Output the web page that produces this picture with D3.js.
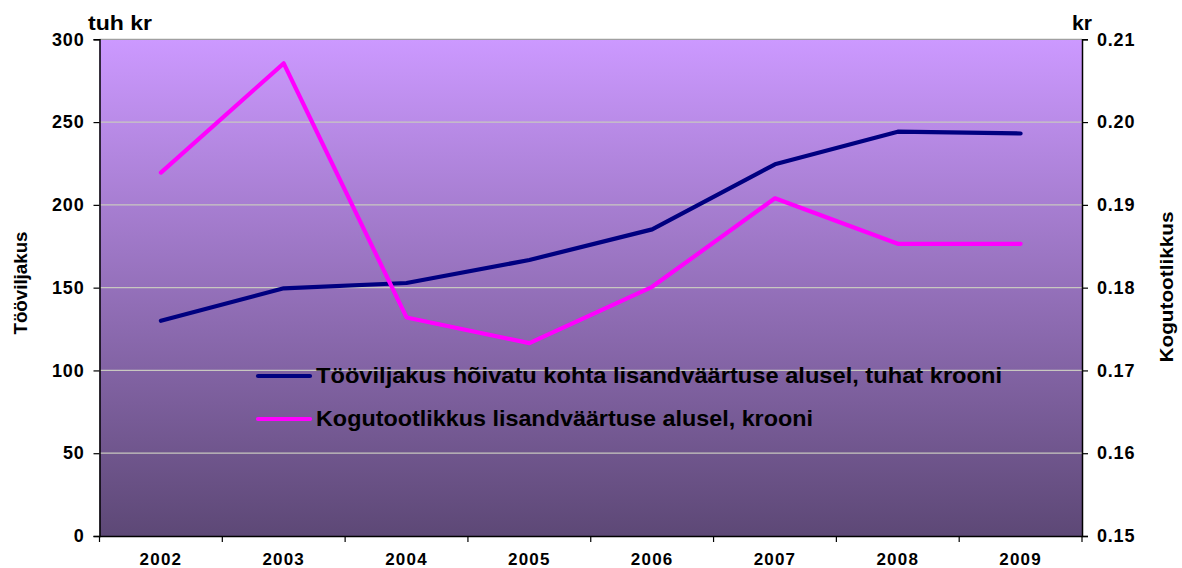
<!DOCTYPE html>
<html><head><meta charset="utf-8">
<script src="https://cdn.jsdelivr.net/npm/d3@7"></script>
<style>
body{margin:0;background:#fff;}
svg text{font-family:Arial,"Liberation Sans",sans-serif;font-weight:bold;fill:#000;}
</style></head>
<body><svg id="c" width="1182" height="568"></svg>
<script>
const years = ["2002","2003","2004","2005","2006","2007","2008","2009"];
const tooviljakus = [130, 149.6, 152.8, 166.7, 185.2, 224.5, 244.2, 243.1];
const kogutootlikkus = [0.1939, 0.2071, 0.1764, 0.1733, 0.1801, 0.1908, 0.1853, 0.1853];
const leftTicks = [0, 50, 100, 150, 200, 250, 300];
const rightTicks = [0.15, 0.16, 0.17, 0.18, 0.19, 0.20, 0.21];
const seriesNames = ["Tööviljakus hõivatu kohta lisandväärtuse alusel, tuhat krooni", "Kogutootlikkus lisandväärtuse alusel, krooni"];
const colors = ["#000080", "#ff00ff"];

const svg = d3.select("#c");
const L = 99.5, R = 1082, T = 39.3, B = 536;
const x = d3.scaleBand().domain(years).range([L, R]).padding(0);
const yL = d3.scaleLinear().domain([0, 300]).range([B, T]);
const yR = d3.scaleLinear().domain([0.15, 0.21]).range([B, T]);

const defs = svg.append("defs");
const g = defs.append("linearGradient").attr("id","bg").attr("x1",0).attr("y1",0).attr("x2",0).attr("y2",1);
g.append("stop").attr("offset","0%").attr("stop-color","#cc99ff");
g.append("stop").attr("offset","100%").attr("stop-color","#5d4876");

svg.append("rect").attr("x",L).attr("y",T).attr("width",R-L).attr("height",B-T).attr("fill","url(#bg)");

// gridlines
svg.append("g").selectAll("line").data(leftTicks.filter(d=>d>0)).join("line")
  .attr("x1",L).attr("x2",R).attr("y1",d=>yL(d)).attr("y2",d=>yL(d))
  .attr("stroke", d=> d===300 ? "#a0a0a0" : "#c8c8c0").attr("stroke-width",1.2);

// axes
const axL = d3.axisLeft(yL).tickValues(leftTicks).tickSize(6).tickPadding(9).tickFormat(d3.format("d"));
const gL = svg.append("g").attr("transform",`translate(${L},0)`).call(axL);
const axR = d3.axisRight(yR).tickValues(rightTicks).tickSize(6).tickPadding(9).tickFormat(d3.format(".2f"));
const gR = svg.append("g").attr("transform",`translate(${R},0)`).call(axR);
const axB = d3.axisBottom(x).tickSize(0).tickPadding(17);
const gB = svg.append("g").attr("transform",`translate(0,${B})`).call(axB);
[gL,gR,gB].forEach(a=>{
  a.select(".domain").attr("stroke","#000").attr("stroke-width",1.5);
  a.selectAll(".tick line").attr("stroke","#000").attr("stroke-width",1.2);
  a.selectAll("text").style("font-size","18px").style("font-family","Arial,'Liberation Sans',sans-serif").style("font-weight","bold").attr("fill","#000").attr("letter-spacing","0.8px");
});
gB.selectAll("text").style("font-size","17px").attr("letter-spacing","1.2px");
// boundary ticks for category axis
const bounds = years.map(d=>x(d)).concat([R]);
svg.append("g").selectAll("line").data(bounds).join("line")
  .attr("x1",d=>d).attr("x2",d=>d).attr("y1",B).attr("y2",B+6).attr("stroke","#000").attr("stroke-width",1.2);

// lines
const cx = d => x(d) + x.bandwidth()/2;
const line1 = d3.line().x((d,i)=>cx(years[i])).y(d=>yL(d));
const line2 = d3.line().x((d,i)=>cx(years[i])).y(d=>yR(d));
svg.append("path").attr("d",line1(tooviljakus)).attr("fill","none").attr("stroke",colors[0]).attr("stroke-width",4.2).attr("stroke-linejoin","round").attr("stroke-linecap","round");
svg.append("path").attr("d",line2(kogutootlikkus)).attr("fill","none").attr("stroke",colors[1]).attr("stroke-width",4.2).attr("stroke-linejoin","round").attr("stroke-linecap","round");

// unit labels
svg.append("text").attr("x",88).attr("y",30).style("font-size","20px").attr("textLength",64).attr("lengthAdjust","spacingAndGlyphs").text("tuh kr");
svg.append("text").attr("x",1072).attr("y",30).style("font-size","20px").attr("textLength",20).attr("lengthAdjust","spacingAndGlyphs").text("kr");

// axis titles
svg.append("text").attr("transform","translate(27,283) rotate(-90)").attr("text-anchor","middle").style("font-size","18px").attr("textLength",103).attr("lengthAdjust","spacingAndGlyphs").text("Tööviljakus");
svg.append("text").attr("transform","translate(1173,287) rotate(-90)").attr("text-anchor","middle").style("font-size","18px").attr("textLength",151).attr("lengthAdjust","spacingAndGlyphs").text("Kogutootlikkus");

// legend
const leg = svg.append("g");
const ly = [376, 419];
const lw = [686, 497];
seriesNames.forEach((n,i)=>{
  leg.append("line").attr("x1",258).attr("x2",310).attr("y1",ly[i]).attr("y2",ly[i]).attr("stroke",colors[i]).attr("stroke-width",4.2).attr("stroke-linecap","round");
  leg.append("text").attr("x",316).attr("y",ly[i]+7).style("font-size","21.5px").attr("textLength",lw[i]).attr("lengthAdjust","spacingAndGlyphs").text(n);
});
</script></body></html>
